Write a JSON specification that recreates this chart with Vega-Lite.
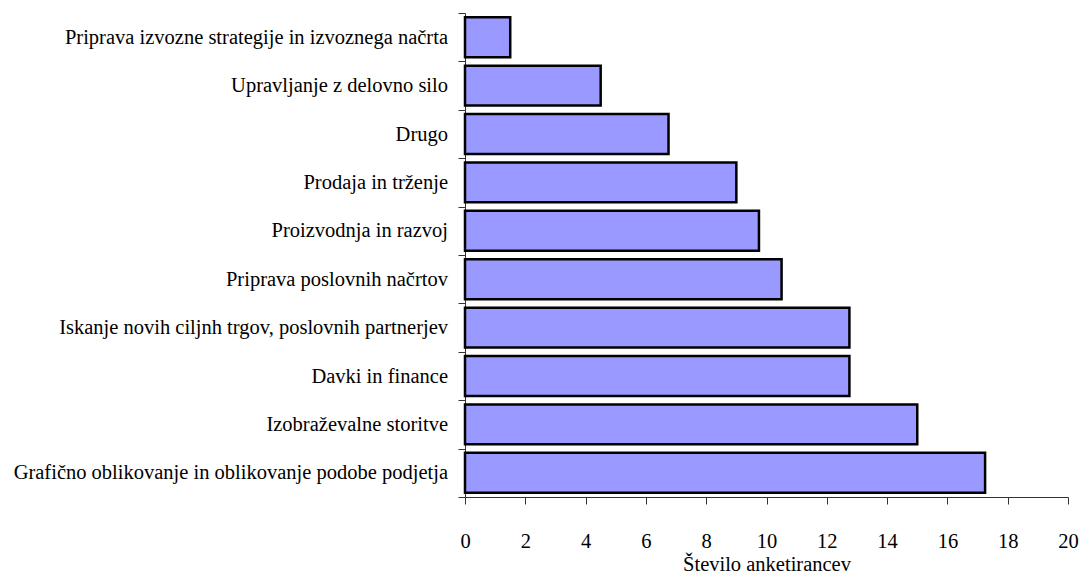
{
  "$schema": "https://vega.github.io/schema/vega-lite/v6.json",
  "autosize": "none",
  "width": 603,
  "height": 484,
  "padding": {"left": 465, "top": 13, "right": 12, "bottom": 76},
  "background": "white",
  "config": {
    "view": {"stroke": null},
    "font": "Times New Roman, Liberation Serif, serif"
  },
  "data": {
    "values": [
      {"kategorija": "Priprava izvozne strategije in izvoznega načrta", "stevilo": 1.5},
      {"kategorija": "Upravljanje z delovno silo", "stevilo": 4.5},
      {"kategorija": "Drugo", "stevilo": 6.75},
      {"kategorija": "Prodaja in trženje", "stevilo": 9},
      {"kategorija": "Proizvodnja in razvoj", "stevilo": 9.75},
      {"kategorija": "Priprava poslovnih načrtov", "stevilo": 10.5},
      {"kategorija": "Iskanje novih ciljnh trgov, poslovnih partnerjev", "stevilo": 12.75},
      {"kategorija": "Davki in finance", "stevilo": 12.75},
      {"kategorija": "Izobraževalne storitve", "stevilo": 15},
      {"kategorija": "Grafično oblikovanje in oblikovanje podobe podjetja", "stevilo": 17.25}
    ]
  },
  "mark": {
    "type": "bar",
    "fill": "#9999FF",
    "stroke": "#000000",
    "strokeWidth": 2.5,
    "height": {"band": 0.825}
  },
  "encoding": {
    "y": {
      "field": "kategorija",
      "type": "nominal",
      "sort": null,
      "scale": {"paddingInner": 0, "paddingOuter": 0},
      "axis": {
        "title": null,
        "tickBand": "extent",
        "tickSize": 7,
        "tickColor": "#333333",
        "domainColor": "#333333",
        "domainWidth": 1,
        "tickWidth": 1,
        "labelFont": "Times New Roman, Liberation Serif, serif",
        "labelFontSize": 20.5,
        "labelColor": "#000000",
        "labelPadding": 10.5,
        "labelLimit": 600,
        "grid": false
      }
    },
    "x": {
      "field": "stevilo",
      "type": "quantitative",
      "scale": {"domain": [0, 20], "nice": false},
      "axis": {
        "title": "Število anketirancev",
        "values": [0, 2, 4, 6, 8, 10, 12, 14, 16, 18, 20],
        "grid": false,
        "tickSize": 7,
        "tickColor": "#333333",
        "domainColor": "#333333",
        "domainWidth": 1,
        "tickWidth": 1,
        "labelFont": "Times New Roman, Liberation Serif, serif",
        "labelFontSize": 20.5,
        "labelColor": "#000000",
        "labelBaseline": "alphabetic",
        "labelPadding": 43,
        "labelFlush": false,
        "labelOverlap": false,
        "titleFont": "Times New Roman, Liberation Serif, serif",
        "titleFontSize": 20.5,
        "titleFontWeight": "normal",
        "titleColor": "#000000",
        "titleBaseline": "alphabetic",
        "titleAnchor": "middle",
        "titleY": 73
      }
    }
  }
}
